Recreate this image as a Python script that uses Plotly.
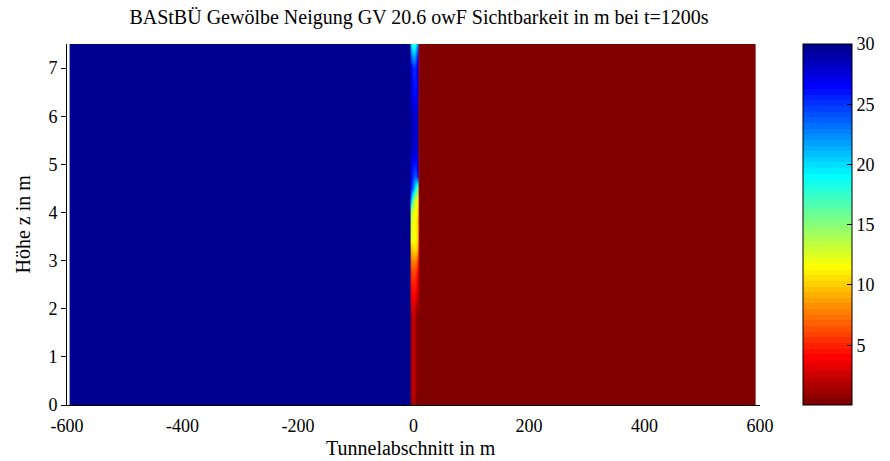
import numpy as np
import plotly.graph_objects as go

# ---------------- data ----------------
title_text = "BAStBÜ Gewölbe Neigung GV 20.6 owF Sichtbarkeit in m bei t=1200s"
x_label = "Tunnelabschnitt in m"
y_label = "Höhe z in m"

# heights (m)
heights = [0.00, 0.25, 0.50, 0.75, 1.00, 1.25, 1.50, 1.75, 2.00, 2.25, 2.50,
           2.75, 3.00, 3.25, 3.50, 3.75, 4.00, 4.25, 4.50, 4.75, 5.00, 5.25,
           5.50, 5.75, 6.00, 6.25, 6.50, 6.75, 7.00, 7.25, 7.50]

# tunnel positions (m) of the sampled columns
positions = [-595, -594, -5.3, -5, 0, 4, 7, 9, 10, 591, 592]

visibility_left = 30.0    # upstream, smoke free
visibility_right = 0.05   # downstream, smoke filled

# visibility profiles (m) at the transition columns, bottom -> top
vis_m5 = [0.8, 1.2, 1.2, 1.2, 1.2, 1.2, 1.2, 1.2, 2.0, 3.5, 4.5,
          5.5, 7.0, 9.5, 12.0, 13.0, 14.0, 22.0, 26.0, 27.0, 27.5, 28.5,
          29.0, 29.0, 29.0, 28.5, 28.0, 28.0, 27.5, 24.0, 20.0]
vis_0 = [1.5, 2.6, 2.6, 2.6, 2.6, 2.6, 2.6, 2.6, 3.0, 4.0, 4.8,
         6.0, 8.0, 10.5, 12.0, 11.5, 12.0, 14.0, 22.0, 24.5, 26.0, 27.5,
         28.0, 28.0, 28.0, 27.0, 26.0, 25.5, 25.0, 21.0, 17.0]
vis_4 = [0.6, 0.8, 0.8, 0.8, 0.8, 0.8, 0.8, 0.8, 1.5, 3.5, 4.5,
         5.5, 7.5, 10.5, 11.5, 11.0, 11.5, 12.5, 18.0, 24.0, 26.0, 27.5,
         28.0, 28.0, 28.0, 27.0, 26.5, 26.0, 26.0, 23.0, 19.0]
vis_7 = [0.3, 0.3, 0.3, 0.3, 0.3, 0.3, 0.3, 0.3, 0.5, 1.5, 2.5,
         3.5, 5.5, 8.5, 10.0, 10.0, 10.5, 11.5, 16.0, 26.0, 28.0, 29.0,
         29.0, 29.0, 29.0, 28.5, 28.0, 28.0, 28.0, 26.0, 23.0]
vis_9 = [0.1, 0.1, 0.1, 0.1, 0.1, 0.1, 0.1, 0.1, 1.8, 1.8, 1.8,
         1.8, 1.8, 1.8, 1.8, 1.8, 1.8, 1.8, 1.8, 1.8, 1.8, 1.8,
         1.8, 1.8, 1.8, 1.8, 1.8, 1.8, 1.8, 1.8, 1.8]

x_ticks = [-600, -400, -200, 0, 200, 400, 600]
x_tick_text = ["-600", "-400", "-200", "0", "200", "400", "600"]
y_ticks = [0, 1, 2, 3, 4, 5, 6, 7]
cbar_ticks = [5, 10, 15, 20, 25, 30]
c_min, c_max = 0.04, 30.0

# ---------------- build field ----------------
n = len(heights)
left_col = [visibility_left] * n
right_col = [visibility_right] * n
columns = [left_col, left_col, left_col, vis_m5, vis_0, vis_4, vis_7, vis_9,
           right_col, right_col, right_col]
z = np.column_stack(columns)


# MATLAB-style jet(64) colormap, reversed (low = dark red, high = dark blue)
def matlab_jet(m=64):
    nn = int(np.ceil(m / 4))
    u = np.concatenate([np.arange(1, nn + 1) / nn, np.ones(nn - 1),
                        np.arange(nn, 0, -1) / nn])
    g = int(np.ceil(nn / 2)) - (1 if m % 4 == 1 else 0) + np.arange(1, len(u) + 1)
    r = g + nn
    b = g - nn
    J = np.zeros((m, 3))
    for idx, val in zip(r, u):
        if 1 <= idx <= m:
            J[idx - 1, 0] = val
    for idx, val in zip(g, u):
        if 1 <= idx <= m:
            J[idx - 1, 1] = val
    for idx, val in zip(b, u):
        if 1 <= idx <= m:
            J[idx - 1, 2] = val
    return J


J = matlab_jet(64)
colorscale = []
for k in range(64):
    rr, gg, bb = (J[63 - k] * 255).round().astype(int)
    col = f"rgb({rr},{gg},{bb})"
    colorscale.append([k / 64, col])
    colorscale.append([(k + 1) / 64, col])

# ---------------- figure ----------------
W, H = 890, 461
L, R, T, B = 67, 130, 44, 56
plot_w = W - L - R
plot_h = H - T - B

serif = "Liberation Serif"

fig = go.Figure()
fig.add_trace(go.Heatmap(
    x=positions, y=heights, z=z,
    zsmooth="best",
    colorscale=colorscale, zmin=c_min, zmax=c_max,
    hoverinfo="skip",
    colorbar=dict(
        x=(803 - L) / plot_w, xanchor="left", xpad=0,
        y=0.5, yanchor="middle", len=1.0, lenmode="fraction", ypad=0,
        thickness=49, thicknessmode="pixels",
        outlinecolor="black", outlinewidth=1,
        tickvals=cbar_ticks, ticks="inside", ticklen=5, tickcolor="black",
        tickfont=dict(family=serif, size=18, color="black"),
    ),
    showscale=True,
))

fig.update_layout(
    width=W, height=H,
    margin=dict(l=L, r=R, t=T, b=B, autoexpand=False),
    paper_bgcolor="white", plot_bgcolor="white",
    title=dict(text=title_text, x=(419 - L) / plot_w, xref="paper", xanchor="center",
               y=1 - 17 / H, yref="container", yanchor="middle",
               font=dict(family=serif, size=20, color="black")),
    xaxis=dict(range=[-600, 600], tickvals=x_ticks, ticktext=x_tick_text,
               ticks="inside", ticklen=9, ticklabelstandoff=4,
               tickcolor="black", showline=True, linecolor="black", linewidth=1,
               mirror=False, showgrid=False, zeroline=False, layer="below traces",
               tickfont=dict(family=serif, size=18, color="black")),
    yaxis=dict(range=[0, 7.5], tickvals=y_ticks, ticks="outside", ticklen=5,
               tickcolor="black", showline=True, linecolor="black", linewidth=1,
               mirror=False, showgrid=False, zeroline=False, layer="below traces",
               tickfont=dict(family=serif, size=18, color="black")),
    annotations=[
        dict(text=x_label, xref="paper", yref="paper", x=(411 - L) / plot_w,
             y=-(448 - (H - B)) / plot_h, xanchor="center", yanchor="middle",
             showarrow=False, font=dict(family=serif, size=20, color="black")),
        dict(text=y_label, xref="paper", yref="paper", x=-(67 - 22) / plot_w,
             y=0.5, xanchor="center", yanchor="middle", textangle=-90,
             showarrow=False, font=dict(family=serif, size=20, color="black")),
    ],
)

fig.write_html("out.html", config={"displayModeBar": False},
               post_script="document.body.style.margin='0px';document.body.style.padding='0px';")
